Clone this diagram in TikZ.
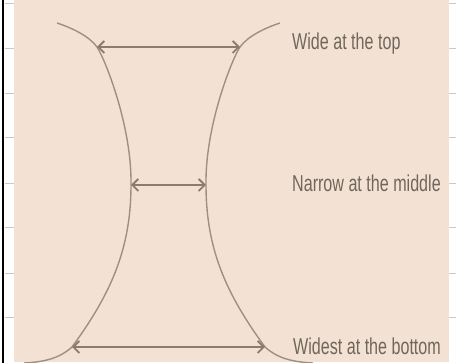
\documentclass[tikz,border=0pt]{standalone}
\usepackage{fontspec}
\setmainfont{Liberation Sans}
\newfontfamily\labfont[FakeStretch=0.7]{Liberation Sans}
\usetikzlibrary{arrows.meta}
\definecolor{beige}{RGB}{243,226,211}
\definecolor{curvecol}{RGB}{158,144,128}
\definecolor{arrowcol}{RGB}{138,125,110}
\definecolor{textcol}{RGB}{112,102,94}
\definecolor{tickcol}{RGB}{200,200,200}
\tikzset{
  curve/.style={draw=curvecol, line width=1.4pt},
  measure/.style={draw=arrowcol, line width=1.8pt, {Straight Barb[length=6pt,width=12pt]}-{Straight Barb[length=6pt,width=12pt]}},
  lab/.style={anchor=base west, inner sep=0pt, text=textcol, font=\labfont\fontsize{23}{23}\selectfont},
  tick/.style={draw=tickcol, line width=0.8pt}
}
\begin{document}
\begin{tikzpicture}[x=1pt,y=-1pt]
\useasboundingbox (0,0) rectangle (456,363);
\fill[white] (0,0) rectangle (456,363);
\fill[beige] (14,0) rectangle (449,362);
\draw[black, line width=1.8pt] (3,0) -- (3,363);
\foreach \yy in {3,48,93,137,183,227,273,317} {
  \draw[tick] (5,\yy) -- (14,\yy);
  \draw[tick] (449,\yy) -- (456,\yy);
}
\coordinate (tl) at (97,47);
\coordinate (tr) at (240,47);
\coordinate (ml) at (131,185);
\coordinate (mr) at (206,185);
\coordinate (bl) at (72,347);
\coordinate (br) at (265,347);
\begin{scope}
\clip (14,0) rectangle (449,363);
% left curve
\draw[curve] (57,23) .. controls (72,28) and (89,36) .. (tl)
  .. controls (104,57) and (132,125) .. (ml)
  .. controls (131,250) and (110,295) .. (bl)
  .. controls (60,358) and (45,362) .. (24,363);
% right curve (mirror about x=168.5)
\draw[curve] (280,23) .. controls (265,28) and (248,36) .. (tr)
  .. controls (233,57) and (205,125) .. (mr)
  .. controls (206,250) and (227,295) .. (br)
  .. controls (277,358) and (292,362) .. (313,363);
\end{scope}
\draw[measure] (tl) -- (tr);
\draw[measure] (ml) -- (mr);
\draw[measure] (bl) -- (br);
\node[lab] (top) at (292,50) {Wide at the top};
\node[lab] (mid) at (292,192) {Narrow at the middle};
\node[lab] (bot) at (293,355) {Widest at the bottom};
\end{tikzpicture}
\end{document}
